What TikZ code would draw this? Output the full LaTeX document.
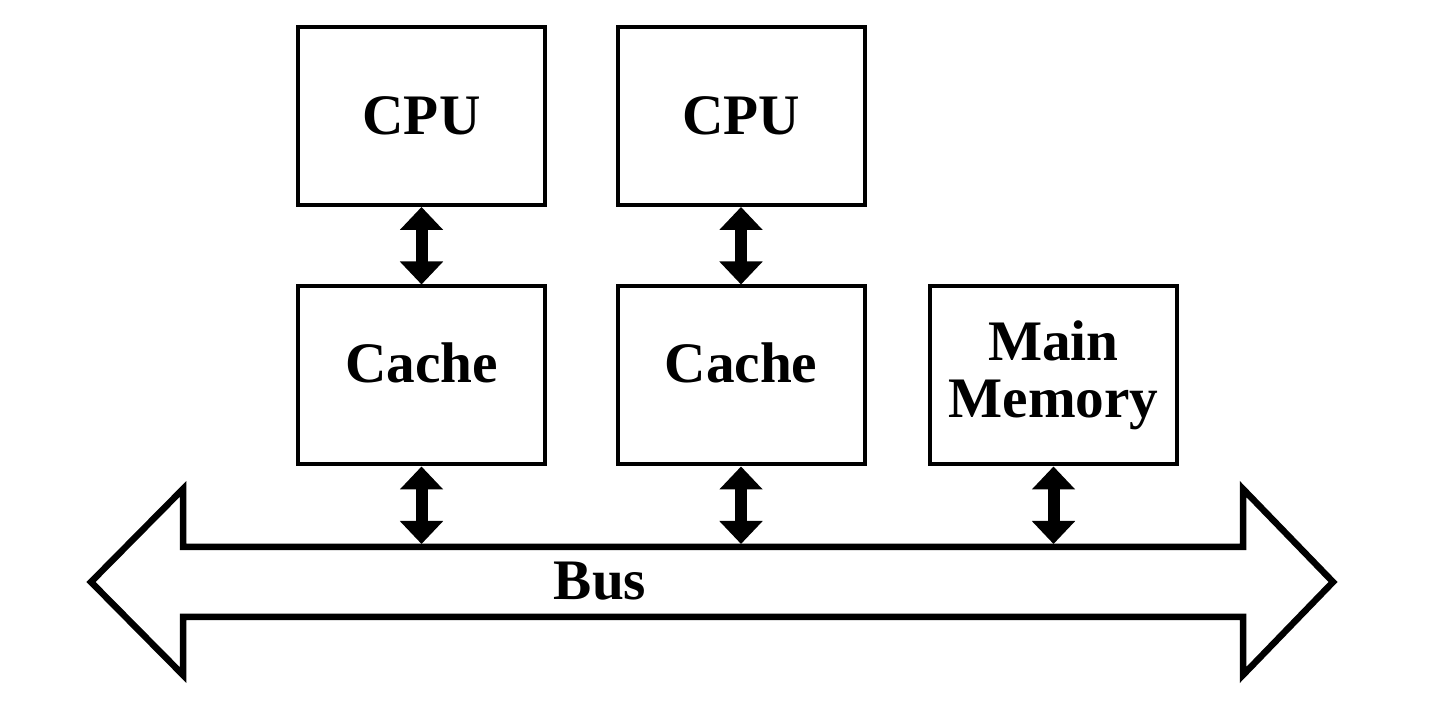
\documentclass[tikz,border=0pt]{standalone}
\usepackage{fontspec}
\setmainfont{Liberation Serif}
\usepackage{tikz}
\usetikzlibrary{arrows.meta}
\tikzstyle{unit}=[draw, line width=0.04cm, minimum width=2.47cm, minimum height=1.78cm, inner sep=0pt, align=center, font=\bfseries\fontsize{16.3}{16.3}\selectfont]
\tikzstyle{cache}=[unit, text depth=0.26cm]
\tikzstyle{link}=[line width=0.12cm, {Triangle[width=0.42cm,length=0.23cm]}-{Triangle[width=0.42cm,length=0.23cm]}]

\begin{document}
\begin{tikzpicture}
        \useasboundingbox (0, 0) rectangle (14.44, 7.08);
        \node[unit] (CPU1) at (4.215, 5.92) {CPU};
        \node[unit] (CPU2) at (7.41, 5.92) {CPU};
        \node[cache] (Cache1) at (4.215, 3.325) {Cache};
        \node[cache] (Cache2) at (7.41, 3.325) {Cache};
        \node[unit] (Mem) at (10.535, 3.325) {Main\\Memory};
        \draw[line width=0.065cm] (0.91, 1.26) -- (1.83, 2.19) -- (1.83, 1.61) -- (12.43, 1.61) -- (12.43, 2.19)
            -- (13.33, 1.26) -- (12.43, 0.33) -- (12.43, 0.91) -- (1.83, 0.91) -- (1.83, 0.33) -- cycle;
        \node[font=\bfseries\fontsize{16.3}{16.3}\selectfont] (Bus) at (6.0, 1.27) {Bus};
        \coordinate (Bus1) at (4.215, 1.64);
        \coordinate (Bus2) at (7.41, 1.64);
        \coordinate (Bus3) at (10.535, 1.64);
        \draw[link] (CPU1.south) -- (Cache1.north);
        \draw[link] (CPU2.south) -- (Cache2.north);
        \draw[link] (Cache1.south) -- (Bus1);
        \draw[link] (Cache2.south) -- (Bus2);
        \draw[link] (Mem.south) -- (Bus3);
    \end{tikzpicture}
\end{document}
